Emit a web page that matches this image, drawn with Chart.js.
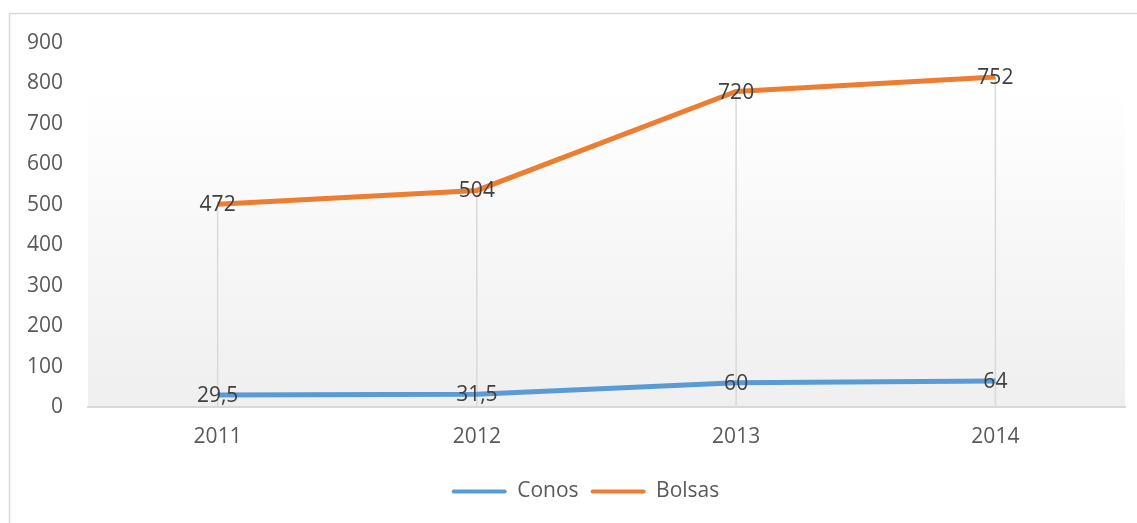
<!DOCTYPE html>
<html>
<head>
<meta charset="utf-8">
<script src="https://cdn.jsdelivr.net/npm/chart.js@4/dist/chart.umd.min.js"></script>
<style>
  html, body { margin: 0; padding: 0; background: #ffffff; }
  #wrap { width: 1137px; height: 523px; }
</style>
</head>
<body>
<div id="wrap"><canvas id="lineChart" width="1137" height="523"></canvas></div>
<script>
const years = ["2011", "2012", "2013", "2014"];
const conos = [29.5, 31.5, 60, 64];
const bolsas = [472, 504, 720, 752];
const yTicks = [0, 100, 200, 300, 400, 500, 600, 700, 800, 900];

const FONT = "'Open Sans', 'DejaVu Sans', sans-serif";
const BLUE = "#5B9BD5";
const ORANGE = "#ED7D31";

// chart frame + plot fill
const framePlugin = {
    id: "frame",
    afterLayout(chart) {
        // legend sits a little right of centre in the original
        if (chart.legend) {
            chart.legend.left += 23;
            chart.legend.right += 23;
        }
    },
    beforeDraw(chart) {
        const { ctx, chartArea } = chart;
        ctx.save();
        const top = chartArea.top + 47;
        const g = ctx.createLinearGradient(0, top, 0, chartArea.bottom);
        g.addColorStop(0, "#ffffff");
        g.addColorStop(1, "#efefef");
        ctx.fillStyle = g;
        ctx.fillRect(chartArea.left, top, chartArea.right - chartArea.left, chartArea.bottom - top);
        ctx.restore();
    },
    afterDraw(chart) {
        const { ctx } = chart;
        ctx.save();
        ctx.strokeStyle = "#d9d9d9";
        ctx.lineWidth = 1.5;
        ctx.beginPath();
        ctx.moveTo(9.5, chart.height);
        ctx.lineTo(9.5, 13.5);
        ctx.lineTo(chart.width, 13.5);
        ctx.stroke();
        ctx.restore();
    }
};

// drop lines from the top point down to the axis
const dropLines = {
    id: "dropLines",
    beforeDatasetsDraw(chart) {
        const { ctx } = chart;
        const yScale = chart.scales.y;
        const top = chart.getDatasetMeta(chart.data.datasets.length - 1).data;
        ctx.save();
        ctx.strokeStyle = "#d9d9d9";
        ctx.lineWidth = 1.5;
        top.forEach(pt => {
            ctx.beginPath();
            ctx.moveTo(pt.x, pt.y);
            ctx.lineTo(pt.x, yScale.bottom);
            ctx.stroke();
        });
        ctx.restore();
    }
};

// value labels centred on each point
const valueLabels = {
    id: "valueLabels",
    afterDatasetsDraw(chart) {
        const { ctx } = chart;
        ctx.save();
        ctx.font = "21px " + FONT;
        ctx.fillStyle = "#404040";
        ctx.textAlign = "center";
        ctx.textBaseline = "middle";
        chart.data.datasets.forEach((ds, i) => {
            chart.getDatasetMeta(i).data.forEach((pt, j) => {
                ctx.fillText(String(ds.data[j]).replace(".", ","), pt.x, pt.y + 1);
            });
        });
        ctx.restore();
    }
};

new Chart(document.getElementById("lineChart"), {
    type: "line",
    data: {
        labels: years,
        datasets: [
            {
                label: "Conos",
                data: conos,
                borderColor: BLUE,
                backgroundColor: BLUE,
                borderWidth: 5,
                pointRadius: 0,
                fill: false,
                tension: 0
            },
            {
                label: "Bolsas",
                data: bolsas,
                borderColor: ORANGE,
                backgroundColor: ORANGE,
                borderWidth: 5,
                pointRadius: 0,
                fill: false,
                tension: 0
            }
        ]
    },
    options: {
        responsive: false,
        animation: false,
        devicePixelRatio: 1,
        layout: { padding: { top: 43, right: 12, left: 0, bottom: 11 } },
        scales: {
            x: {
                offset: true,
                grid: { display: false, drawTicks: false },
                border: { display: true, color: "#d9d9d9", width: 2 },
                ticks: {
                    color: "#595959",
                    font: { family: FONT, size: 21 },
                    padding: 17,
                    maxRotation: 0
                },
                afterFit(scale) { scale.height = 62; }
            },
            y: {
                stacked: true,
                min: 0,
                max: 900,
                grid: { display: false, drawTicks: false },
                border: { display: false },
                afterBuildTicks(scale) { scale.ticks = yTicks.map(v => ({ value: v })); },
                ticks: {
                    color: "#595959",
                    font: { family: FONT, size: 21 },
                    padding: 25
                },
                afterFit(scale) { scale.width = 88; }
            }
        },
        plugins: {
            tooltip: { enabled: false },
            legend: {
                position: "bottom",
                labels: {
                    color: "#595959",
                    font: { family: FONT, size: 21 },
                    boxWidth: 55,
                    boxHeight: 4,
                    padding: 12,
                    useBorderRadius: true,
                    generateLabels(chart) {
                        return chart.data.datasets.map((ds, i) => ({
                            text: ds.label,
                            fillStyle: ds.borderColor,
                            strokeStyle: ds.borderColor,
                            lineWidth: 0,
                            borderRadius: 2,
                            fontColor: "#595959",
                            datasetIndex: i,
                            hidden: false
                        }));
                    }
                }
            }
        }
    },
    plugins: [framePlugin, dropLines, valueLabels]
});
</script>
</body>
</html>
